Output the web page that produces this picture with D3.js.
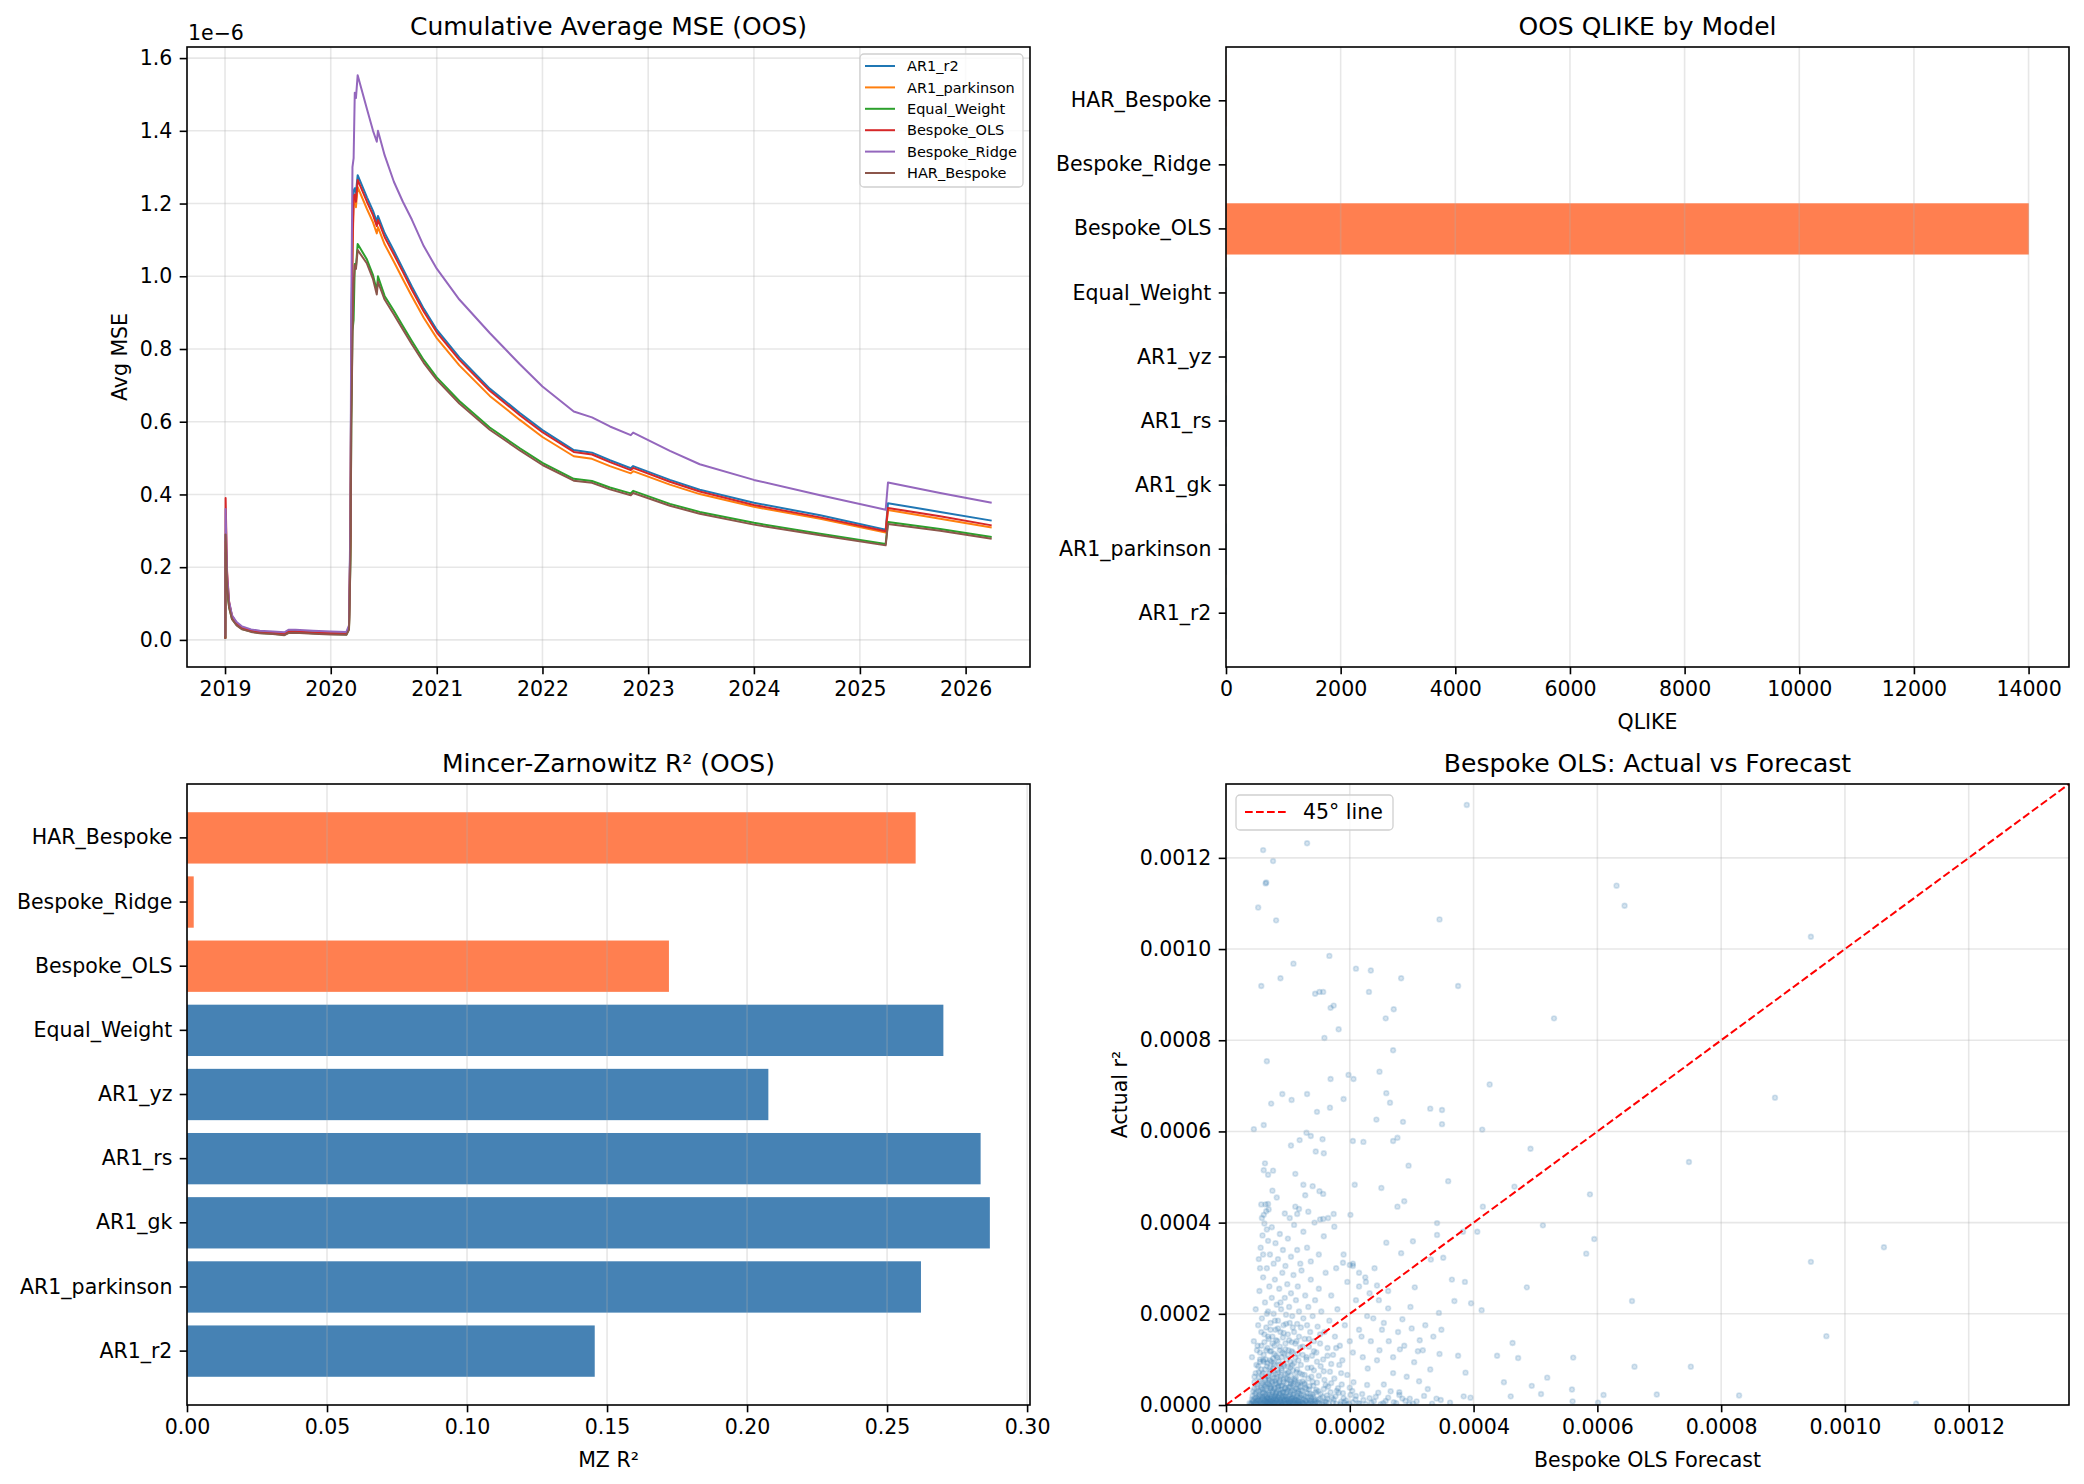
<!DOCTYPE html>
<html>
<head>
<meta charset="utf-8">
<script src="https://cdn.jsdelivr.net/npm/d3@7"></script>
<style>
  body { margin: 0; background: #fff; }
  svg { display: block; }
</style>
</head>
<body>
<svg id="fig" width="2084" height="1484"></svg>
<script>
// ---------------- data ----------------
// cumulative average MSE (units of 1e-6)
const mseDates = ["2019-01-02","2019-01-03","2019-01-08","2019-01-15","2019-01-25","2019-02-10","2019-03-01","2019-04-01","2019-05-01","2019-06-15",
  "2019-07-25","2019-08-08","2019-09-01","2019-11-01","2020-01-01","2020-02-24","2020-03-04","2020-03-09","2020-03-12","2020-03-16",
  "2020-03-20","2020-03-24","2020-03-28","2020-04-03","2020-05-05","2020-05-26","2020-06-08","2020-06-12","2020-07-05","2020-08-06",
  "2020-09-06","2020-10-07","2020-11-17","2021-01-01","2021-03-20","2021-07-03","2021-10-15","2022-01-01","2022-04-19","2022-06-21",
  "2022-08-22","2022-11-02","2022-11-10","2023-03-17","2023-06-28","2024-01-01","2024-08-17","2025-03-31","2025-04-08","2025-10-05","2026-04-01"];
const mseAR1_r2 = [0.005,0.29,0.16,0.10,0.065,0.046,0.034,0.027,0.023,0.020, 0.017,0.024,0.024,0.021,0.019,0.018,0.035,0.30,0.80,1.10,
  1.235,1.242,1.229,1.278,1.217,1.180,1.150,1.166,1.119,1.070, 1.021,0.972,0.911,0.853,0.777,0.691,0.624,0.577,0.522,0.515,
  0.494,0.472,0.478,0.440,0.413,0.377,0.343,0.303,0.376,0.352,0.328];
const mseAR1_parkinson = [0.005,0.27,0.15,0.095,0.062,0.044,0.032,0.025,0.021,0.019, 0.016,0.022,0.022,0.020,0.018,0.017,0.033,0.28,0.76,1.06,
  1.20,1.215,1.19,1.245,1.185,1.148,1.118,1.135,1.088,1.040, 0.992,0.945,0.886,0.830,0.755,0.671,0.605,0.558,0.505,0.498,
  0.478,0.458,0.464,0.427,0.401,0.366,0.333,0.295,0.357,0.333,0.309];
const mseEqual_Weight = [0.003,0.24,0.14,0.09,0.058,0.041,0.030,0.023,0.019,0.017, 0.014,0.020,0.021,0.018,0.016,0.015,0.030,0.22,0.60,0.85,
  0.88,1.034,1.025,1.089,1.046,1.003,0.960,1.000,0.946,0.905, 0.863,0.822,0.770,0.722,0.657,0.584,0.527,0.487,0.443,0.437,
  0.419,0.403,0.410,0.374,0.352,0.322,0.292,0.264,0.324,0.305,0.283];
const mseBespoke_OLS = [0.003,0.39,0.19,0.105,0.066,0.046,0.034,0.026,0.021,0.019, 0.016,0.023,0.023,0.020,0.018,0.017,0.034,0.29,0.78,1.08,
  1.22,1.225,1.205,1.265,1.205,1.168,1.138,1.155,1.108,1.060, 1.012,0.963,0.903,0.846,0.770,0.685,0.618,0.571,0.517,0.510,
  0.489,0.467,0.473,0.435,0.408,0.371,0.337,0.299,0.363,0.340,0.315];
const mseBespoke_Ridge = [0.01,0.36,0.18,0.105,0.068,0.049,0.037,0.029,0.025,0.023, 0.021,0.028,0.028,0.025,0.023,0.022,0.040,0.34,0.92,1.30,
  1.325,1.505,1.49,1.553,1.46,1.40,1.37,1.40,1.333,1.26, 1.205,1.156,1.083,1.021,0.936,0.844,0.758,0.697,0.628,0.612,
  0.587,0.563,0.570,0.520,0.483,0.440,0.398,0.358,0.433,0.404,0.377];
const mseHAR_Bespoke = [0.003,0.29,0.15,0.09,0.057,0.040,0.029,0.022,0.018,0.016, 0.013,0.019,0.020,0.017,0.015,0.014,0.028,0.21,0.58,0.83,
  0.98,1.03,1.02,1.072,1.035,0.992,0.950,0.985,0.936,0.895, 0.854,0.813,0.762,0.715,0.650,0.578,0.521,0.481,0.438,0.432,
  0.414,0.398,0.404,0.369,0.347,0.317,0.288,0.260,0.319,0.300,0.278];
const mseTicks = [0.0,0.2,0.4,0.6,0.8,1.0,1.2,1.4,1.6];

// bar charts, bottom to top
const modelNames = ["AR1_r2","AR1_parkinson","AR1_gk","AR1_rs","AR1_yz","Equal_Weight","Bespoke_OLS","Bespoke_Ridge","HAR_Bespoke"];
const qlikeValues = [8.1, 7.9, 7.8, 7.8, 8.0, 7.6, 14005, 7.7, 7.5];
const mzR2Values = [0.1456, 0.2621, 0.2867, 0.2834, 0.2076, 0.2701, 0.1721, 0.0024, 0.2602];
const qlikeTicks = [0,2000,4000,6000,8000,10000,12000,14000];
const mzTicks = [0.00,0.05,0.10,0.15,0.20,0.25,0.30];

// Bespoke OLS scatter: [forecast, actual] in units of 1e-6
const scatterSparse = [[389,1316],[131,1232],[60,1217],[76,1193],[65,1146],[64,1144],[631,1139],[644,1095],[52,1091],[81,1063],[345,1065],[945,1027],
  [167,985],[109,968],[210,957],[234,953],[88,936],[283,936],[57,919],[375,919],[144,902],[151,906],[157,906],[231,906],[174,876],[169,871],
  [271,868],[258,848],[530,848],[182,824],[159,805],[270,778],[66,754],[248,731],[198,724],[206,715],[169,715],[426,703],[91,682],[106,669],
  [131,682],[259,684],[887,674],[190,671],[168,652],[73,661],[265,663],[147,643],[330,650],[349,647],[243,626],[286,621],[349,616],[45,605],
  [61,614],[414,604],[130,597],[137,590],[119,581],[156,583],[205,579],[222,577],[270,579],[277,586],[105,569],[492,562],[145,556],[158,552],
  [748,533],[63,530],[76,514],[61,515],[295,525],[112,507],[359,491],[125,483],[208,483],[251,476],[151,469],[157,463],[466,479],[588,462],
  [288,447],[277,435],[68,441],[69,429],[112,435],[115,419],[133,424],[174,419],[201,417],[415,435],[61,417],[341,399],[512,394],[157,408],
  [152,407],[175,391],[383,380],[406,380],[341,373],[595,364],[259,356],[302,359],[351,323],[582,332],[1063,346],[283,333],[945,314],[331,319],
  [189,312],[200,307],[365,275],[386,270],[486,258],[305,258],[656,228],[369,228],[396,223],[413,208],[344,202],[970,151],[348,165],[313,142],
  [463,136],[438,108],[472,103],[561,104],[660,84],[751,84],[345,112],[375,108],[387,71],[519,60],[449,50],[494,42],[509,24],[559,34],
  [610,22],[696,23],[829,21],[1115,3],[601,5],[560,8],[460,19],[384,19],[395,16],[340,14],[297,14]];
const scatterMid = [[205,310],[215,290],[226,270],[232,245],[247,230],[262,212],[238,190],[252,165],[219,150],[263,140],[281,122],[244,98],
  [229,80],[270,70],[292,62],[255,45],[312,52],[326,35],[280,28],[304,94],[330,78],[300,168],[318,120],[285,188],[244,262],
  [42,105],[45,140],[48,210],[50,120],[52,175],[54,250],[55,95],[57,130],[58,190],[60,280],[61,110],[62,155],[63,225],[64,100],[65,170],
  [66,300],[67,125],[68,205],[69,145],[70,260],[71,98],[72,180],[73,118],[74,235],[75,150],[76,102],[77,200],[78,130],[79,275],[80,165],
  [81,108],[82,220],[83,140],[84,185],[85,96],[86,255],[87,120],[88,160],[89,210],[90,105],[91,290],[92,148],[93,175],[94,112],[95,235],
  [96,135],[97,198],[98,100],[99,265],[100,155],[101,120],[102,215],[103,180],[104,95],[105,245],[106,138],[107,195],[108,115],[109,285],
  [110,160],[112,104],[113,230],[114,140],[115,178],[116,260],[117,98],[118,205],[120,126],[121,170],[122,295],[124,110],[125,190],[127,145],
  [128,240],[130,100],[131,175],[133,215],[134,128],[136,160],[137,275],[139,108],[140,195],[142,140],[144,230],[146,115],[148,172],[150,255],
  [152,135],[154,205],[157,100],[159,160],[161,290],[164,125],[167,185],[170,240],[173,110],[176,150],[180,210],[184,130],[188,98],[192,175],
  [196,270],[200,140],[205,115],[210,230],[215,165],[221,105],[228,195],[234,140],[240,300],[248,120],[255,180],[262,250],[270,105],[278,160],
  [288,130],[298,215],[310,118],[322,175],[335,150],
  [53,320],[56,345],[59,372],[62,398],[65,425],[58,410],[64,440],[68,360],[55,300],[71,330],[74,390],[77,310],[80,355],[57,440],[66,385],
  [60,330],[84,320],[87,375],[92,340],[96,305],[100,365],[105,325],[110,395],[115,340],[120,310],[125,380],[131,345],[137,315],[143,400],
  [150,330],[158,370],[68,505],[75,470],[82,455],[95,420],[103,410],[118,430],[128,460],[140,480],[165,410],[178,300],[190,330],[205,305],
  [215,260],[225,280],
  [46,62],[49,88],[51,130],[53,72],[55,115],[57,160],[58,66],[60,98],[62,138],[63,78],[65,120],[66,200],[67,92],[68,150],[70,70],[71,118],
  [72,165],[73,95],[75,135],[76,80],[78,112],[79,185],[80,68],[81,142],[83,104],[84,168],[86,88],[87,128],[88,225],[90,76],[91,115],[93,158],
  [94,86],[96,122],[97,178],[99,70],[100,110],[102,142],[104,82],[106,118],[108,170],[110,92],[112,135],[114,72],[116,112],[118,150],[121,88],
  [124,128],[127,66],[130,105],[134,145],[138,82],[142,118],[147,95],[152,155],[158,74],[164,108],[170,90],[178,125],[186,70]];
const scatterCore = [[38,4],[42,12],[45,2],[47,25],[49,8],[50,40],[51,15],[52,3],[53,60],[54,22],[55,9],[56,33],[57,1],[58,48],[59,17],
  [60,5],[60,70],[61,28],[62,12],[63,41],[64,2],[64,55],[65,19],[66,8],[66,85],[67,31],[68,14],[68,63],[69,4],[70,44],[70,22],[71,9],
  [72,37],[72,75],[73,16],[74,3],[74,52],[75,27],[76,11],[76,66],[77,35],[78,6],[78,88],[79,20],[80,47],[80,13],[81,2],[82,58],[82,29],
  [83,8],[84,39],[84,71],[85,17],[86,4],[86,50],[87,25],[88,10],[88,62],[89,33],[90,1],[90,80],[91,43],[92,15],[93,27],[93,56],[94,7],
  [95,37],[96,19],[96,68],[97,3],[98,47],[99,12],[100,30],[100,84],[101,5],[102,55],[103,22],[104,9],[104,40],[105,65],[106,14],[107,31],
  [108,2],[108,76],[109,48],[110,18],[111,6],[112,36],[113,60],[114,11],[115,26],[116,4],[117,44],[118,15],[119,70],[120,8],[121,33],
  [122,21],[124,52],[125,3],[126,12],[128,38],[130,6],[131,26],[133,58],[135,10],[137,18],[139,3],[141,42],[143,9],[145,28],[148,5],
  [150,64],[152,14],[155,2],[158,35],[160,8],[163,21],[166,4],[170,48],[174,12],[178,3],[182,27],[186,7],[190,15],[195,2],[200,38],
  [205,6],[210,20],[216,3],[222,11],[228,44],[235,5],[242,18],[250,2],[258,9],[266,30],[275,4],[285,14],[296,2],[308,8],[320,20],
  [333,3],[347,11],[362,5],
  [44,30],[46,50],[48,70],[52,85],[55,100],[57,78],[59,35],[61,95],[63,10],[65,45],[67,5],[69,58],[71,82],[73,38],[75,6],[77,92],
  [79,53],[81,24],[83,77],[85,42],[87,7],[89,66],[91,28],[93,90],[95,13],[97,59],[99,34],[101,72],[103,4],[105,46],[107,88],[109,24],
  [111,57],[113,9],[115,78],[117,30],[119,50],[121,2],[123,67],[127,45],[129,19],[132,81],[134,34],[136,5],[138,62],[140,23],[142,76],
  [144,12],[147,49],[149,30],[153,85],[156,18],[159,55],[162,7],[165,40],[168,73],[171,16],[175,58],[179,31],[183,88],[187,45],[191,6],
  [196,66],[201,22],[206,50],
  [40,1],[43,7],[46,14],[48,3],[51,10],[53,18],[56,5],[58,12],[61,1],[62,20],[65,7],[67,16],[69,11],[70,2],[72,8],[74,19],[76,1],
  [77,14],[79,5],[81,11],[83,18],[85,3],[87,13],[89,6],[91,20],[92,2],[94,10],[96,4],[98,16],[100,8],[102,1],[103,13],[105,6],[107,18],
  [109,3],[111,12],[113,1],[116,9],[118,2],[120,17],[123,5],[127,1],[129,10],[134,4],[138,13],[142,1],[146,7],[151,3],
  [41,3],[43,20],[44,9],[46,36],[47,5],[48,16],[49,28],[50,2],[51,45],[52,11],[53,30],[54,6],[55,52],[56,19],[57,38],[58,3],[59,26],
  [60,14],[61,44],[62,7],[63,58],[64,24],[65,1],[65,33],[66,15],[67,47],[68,6],[69,27],[70,55],[71,13],[72,2],[72,41],[73,23],[74,9],
  [75,49],[76,31],[77,4],[78,18],[78,60],[79,37],[80,7],[81,26],[82,46],[83,13],[84,3],[85,33],[86,21],[87,55],[88,8],[89,42],[90,16],
  [91,4],[92,29],[93,50],[94,18],[95,2],[96,38],[97,11],[98,27],[99,57],[100,4],[101,19],[102,39],[103,8],[104,28],[105,52],[106,2],
  [107,15],[108,43],[109,9],[110,31],[111,54],[112,13],[113,3],[114,36],[115,20],[116,47],[117,7],[118,25],[119,2],[120,40],[122,13],
  [123,31],[124,5],[126,22],[127,48],[129,9],[130,35],[132,16],[133,2],[135,41],[136,25],[138,8],[140,51],[141,17],[144,4],[146,33],
  [149,12],[153,24],[157,6],[161,44],[164,14],[169,28],[173,5],[177,19],[181,37],[185,2],[189,26],[194,10],[199,3],[204,31],[209,12],
  [214,4],[220,24],[226,2],[232,15],[239,8],[246,27],[254,4],[262,16],[271,6],[280,22],[290,9],[302,3]];
const scatterLimit = 1362;
const scatterTicks = [0,200,400,600,800,1000,1200];

// ---------------- drawing ----------------
const FONT = "DejaVu Sans";
const TICK = 20.5;
const svg = d3.select("#fig");
const gridColor = "#b0b0b0";

const mseSeries = [
  { name: "AR1_r2", values: mseAR1_r2, color: "#1f77b4" },
  { name: "AR1_parkinson", values: mseAR1_parkinson, color: "#ff7f0e" },
  { name: "Equal_Weight", values: mseEqual_Weight, color: "#2ca02c" },
  { name: "Bespoke_OLS", values: mseBespoke_OLS, color: "#d62728" },
  { name: "Bespoke_Ridge", values: mseBespoke_Ridge, color: "#9467bd" },
  { name: "HAR_Bespoke", values: mseHAR_Bespoke, color: "#8c564b" }
];
const bespokeSet = new Set(["Bespoke_OLS", "Bespoke_Ridge", "HAR_Bespoke"]);
const barColor = name => bespokeSet.has(name) ? "#ff7f50" : "#4682b4";

function styleAxis(g) {
  g.attr("font-family", FONT).attr("font-size", TICK);
  g.select(".domain").remove();
  g.selectAll(".tick line").attr("stroke", "#000").attr("stroke-width", 1.6);
  g.selectAll(".tick text").attr("fill", "#000");
}
function frame(p) {
  svg.append("rect").attr("x", p.x0).attr("y", p.y0)
    .attr("width", p.x1 - p.x0).attr("height", p.y1 - p.y0)
    .attr("fill", "none").attr("stroke", "#000").attr("stroke-width", 1.6);
}
function title(p, txt) {
  svg.append("text").attr("x", (p.x0 + p.x1) / 2).attr("y", p.y0 - 12.5)
    .attr("text-anchor", "middle").attr("font-family", FONT).attr("font-size", 25).text(txt);
}
function xlabel(p, txt) {
  svg.append("text").attr("x", (p.x0 + p.x1) / 2).attr("y", p.y1 + 62)
    .attr("text-anchor", "middle").attr("font-family", FONT).attr("font-size", TICK).text(txt);
}
function ylabel(x, p, txt) {
  svg.append("text").attr("transform", `translate(${x},${(p.y0 + p.y1) / 2}) rotate(-90)`)
    .attr("text-anchor", "middle").attr("font-family", FONT).attr("font-size", TICK).text(txt);
}
function vgrid(p, xs, vals) {
  svg.append("g").selectAll("line").data(vals).join("line")
    .attr("x1", d => xs(d)).attr("x2", d => xs(d)).attr("y1", p.y0).attr("y2", p.y1)
    .attr("stroke", gridColor).attr("stroke-opacity", 0.3).attr("stroke-width", 1.6);
}
function hgrid(p, ys, vals) {
  svg.append("g").selectAll("line").data(vals).join("line")
    .attr("y1", d => ys(d)).attr("y2", d => ys(d)).attr("x1", p.x0).attr("x2", p.x1)
    .attr("stroke", gridColor).attr("stroke-opacity", 0.3).attr("stroke-width", 1.6);
}

// ---- panel 1: cumulative average MSE ----
{
  const p = { x0: 187, x1: 1030, y0: 47, y1: 667 };
  const dates = mseDates.map(d3.timeParse("%Y-%m-%d"));
  const [t0, t1] = d3.extent(dates);
  const tp = (t1 - t0) * 0.05;
  const x = d3.scaleTime().domain([new Date(+t0 - tp), new Date(+t1 + tp)]).range([p.x0, p.x1]);
  const [v0, v1] = d3.extent(mseSeries.flatMap(s => s.values));
  const vp = (v1 - v0) * 0.05;
  const y = d3.scaleLinear().domain([v0 - vp, v1 + vp]).range([p.y1, p.y0]);
  const years = d3.timeYear.range(new Date(2019, 0, 1), new Date(2027, 0, 1));

  vgrid(p, x, years);
  hgrid(p, y, mseTicks);

  const line = d3.line().x((d, i) => x(dates[i])).y(d => y(d));
  mseSeries.forEach(s => {
    svg.append("path").datum(s.values).attr("d", line)
      .attr("fill", "none").attr("stroke", s.color).attr("stroke-width", 2)
      .attr("stroke-linejoin", "round");
  });

  frame(p);
  svg.append("g").attr("transform", `translate(0,${p.y1})`)
    .call(d3.axisBottom(x).tickValues(years).tickFormat(d3.timeFormat("%Y")).tickSize(7.3).tickPadding(7.3))
    .call(styleAxis);
  svg.append("g").attr("transform", `translate(${p.x0},0)`)
    .call(d3.axisLeft(y).tickValues(mseTicks).tickFormat(d3.format(".1f")).tickSize(7.3).tickPadding(7.3))
    .call(styleAxis);
  svg.append("text").attr("x", p.x0 + 1).attr("y", 40).attr("font-family", FONT).attr("font-size", TICK).text("1e\u22126");
  title(p, "Cumulative Average MSE (OOS)");
  ylabel(127, p, "Avg MSE");

  // legend
  const lg = svg.append("g");
  lg.append("rect").attr("x", 860).attr("y", 54).attr("width", 163).attr("height", 133).attr("rx", 4)
    .attr("fill", "#fff").attr("fill-opacity", 0.8).attr("stroke", "#d0d0d0").attr("stroke-width", 1.3);
  mseSeries.forEach((s, i) => {
    const yy = 66 + i * 21.4;
    lg.append("line").attr("x1", 865).attr("x2", 895).attr("y1", yy).attr("y2", yy)
      .attr("stroke", s.color).attr("stroke-width", 2);
    lg.append("text").attr("x", 907).attr("y", yy).attr("dy", "0.36em")
      .attr("font-family", FONT).attr("font-size", 14.5).text(s.name);
  });
}

// ---- horizontal bar panels ----
function barPanel(p, values, ticks, fmt, ttl, xl) {
  const x = d3.scaleLinear().domain([0, d3.max(values) * 1.05]).range([p.x0, p.x1]);
  const y = d3.scaleBand().domain(modelNames.slice().reverse()).range([p.y0, p.y1])
    .paddingInner(0.2).paddingOuter(0.44);
  svg.append("g").selectAll("rect").data(modelNames).join("rect")
    .attr("x", x(0)).attr("y", (d) => y(d))
    .attr("width", (d, i) => x(values[i]) - x(0)).attr("height", y.bandwidth())
    .attr("fill", d => barColor(d));
  vgrid(p, x, ticks);
  frame(p);
  svg.append("g").attr("transform", `translate(0,${p.y1})`)
    .call(d3.axisBottom(x).tickValues(ticks).tickFormat(fmt).tickSize(7.3).tickPadding(7.3))
    .call(styleAxis);
  svg.append("g").attr("transform", `translate(${p.x0},0)`)
    .call(d3.axisLeft(y).tickSize(7.3).tickPadding(7.3))
    .call(styleAxis);
  title(p, ttl);
  xlabel(p, xl);
}
barPanel({ x0: 1226, x1: 2069, y0: 47, y1: 667 }, qlikeValues, qlikeTicks, d3.format("d"), "OOS QLIKE by Model", "QLIKE");
barPanel({ x0: 187, x1: 1030, y0: 784, y1: 1405 }, mzR2Values, mzTicks, d3.format(".2f"), "Mincer-Zarnowitz R\u00b2 (OOS)", "MZ R\u00b2");

// ---- scatter panel ----
{
  const p = { x0: 1226, x1: 2069, y0: 784, y1: 1405 };
  const x = d3.scaleLinear().domain([0, scatterLimit]).range([p.x0, p.x1]);
  const y = d3.scaleLinear().domain([0, scatterLimit]).range([p.y1, p.y0]);
  svg.append("clipPath").attr("id", "clipS").append("rect")
    .attr("x", p.x0).attr("y", p.y0).attr("width", p.x1 - p.x0).attr("height", p.y1 - p.y0);
  const pts = scatterSparse.concat(scatterMid, scatterCore);
  svg.append("g").attr("clip-path", "url(#clipS)").selectAll("circle").data(pts).join("circle")
    .attr("cx", d => x(d[0])).attr("cy", d => y(d[1])).attr("r", 2.4)
    .attr("fill", "#4682b4").attr("fill-opacity", 0.22)
    .attr("stroke", "#4682b4").attr("stroke-opacity", 0.22).attr("stroke-width", 1.6);
  vgrid(p, x, scatterTicks);
  hgrid(p, y, scatterTicks);
  svg.append("path").datum([[0, 0], [scatterLimit, scatterLimit]])
    .attr("d", d3.line().x(d => x(d[0])).y(d => y(d[1])))
    .attr("fill", "none").attr("stroke", "red").attr("stroke-width", 2).attr("stroke-dasharray", "7.7,3.3");
  frame(p);
  const f4 = d => (d / 1e6).toFixed(4);
  svg.append("g").attr("transform", `translate(0,${p.y1})`)
    .call(d3.axisBottom(x).tickValues(scatterTicks).tickFormat(f4).tickSize(7.3).tickPadding(7.3))
    .call(styleAxis);
  svg.append("g").attr("transform", `translate(${p.x0},0)`)
    .call(d3.axisLeft(y).tickValues(scatterTicks).tickFormat(f4).tickSize(7.3).tickPadding(7.3))
    .call(styleAxis);
  title(p, "Bespoke OLS: Actual vs Forecast");
  xlabel(p, "Bespoke OLS Forecast");
  ylabel(1127, p, "Actual r\u00b2");

  const lg = svg.append("g");
  lg.append("rect").attr("x", 1236).attr("y", 795).attr("width", 157).attr("height", 35).attr("rx", 4)
    .attr("fill", "#fff").attr("fill-opacity", 0.8).attr("stroke", "#d0d0d0").attr("stroke-width", 1.3);
  lg.append("line").attr("x1", 1245).attr("x2", 1287).attr("y1", 812).attr("y2", 812)
    .attr("stroke", "red").attr("stroke-width", 2).attr("stroke-dasharray", "7.7,3.3");
  lg.append("text").attr("x", 1303).attr("y", 812).attr("dy", "0.36em")
    .attr("font-family", FONT).attr("font-size", TICK).text("45\u00b0 line");
}
</script>
</body>
</html>
